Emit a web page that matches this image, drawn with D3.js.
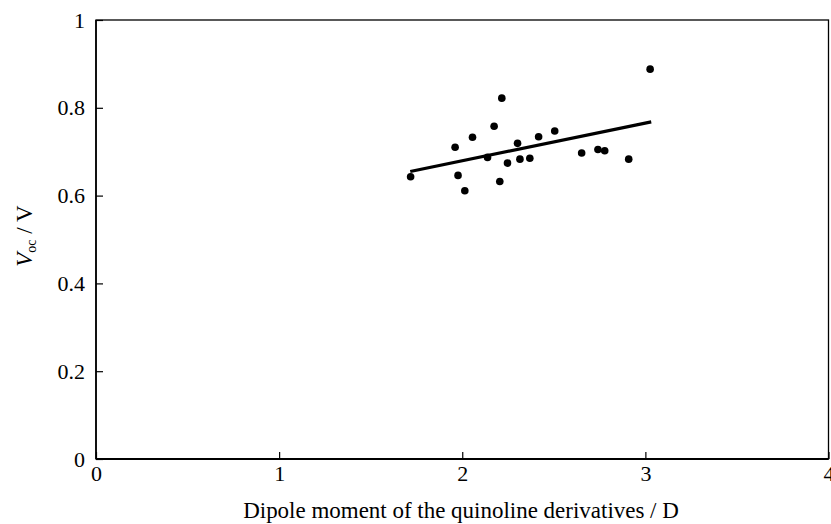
<!DOCTYPE html>
<html><head><meta charset="utf-8">
<script src="https://cdn.jsdelivr.net/npm/d3@7"></script>
<style>body{margin:0;background:#fff}svg{display:block}svg text{font-family:"Liberation Serif","Times New Roman",serif !important;fill:#000}</style>
</head><body><svg id="c" width="831" height="524"></svg>
<script>
const dipole = [1.718,1.961,1.977,2.014,2.056,2.138,2.174,2.216,2.205,2.247,2.302,2.315,2.369,2.417,2.505,2.652,2.741,2.778,2.909,3.026];
const voc    = [0.643,0.710,0.646,0.611,0.733,0.687,0.758,0.822,0.632,0.674,0.719,0.683,0.685,0.734,0.747,0.697,0.705,0.702,0.683,0.888];
const fitX = [1.716, 3.032];
const fitY = [0.655, 0.768];
const xTicks = [0,1,2,3,4];
const yTicks = [0,0.2,0.4,0.6,0.8,1];

const svg = d3.select("#c");
const L=96, R=828.5, T=20, B=459;
const FS = 22;
const x = d3.scaleLinear().domain([0,4]).range([L,R]);
const y = d3.scaleLinear().domain([0,1]).range([B,T]);

// frame
svg.append("rect").attr("x",L).attr("y",T).attr("width",R-L).attr("height",B-T)
  .attr("fill","none").attr("stroke","#000").attr("stroke-width",1.3);
svg.append("line").attr("x1",L).attr("x2",R).attr("y1",B).attr("y2",B).attr("stroke","#000").attr("stroke-width",2.2);
svg.append("line").attr("x1",L).attr("x2",L).attr("y1",T).attr("y2",B).attr("stroke","#000").attr("stroke-width",1.6);

const xa = svg.append("g").attr("transform",`translate(0,${B})`)
  .call(d3.axisBottom(x).tickValues(xTicks).tickFormat(d3.format("d")).tickSizeInner(-7).tickSizeOuter(0).tickPadding(6));
xa.select(".domain").remove();
xa.attr("font-size",FS).attr("font-family","Liberation Serif");
xa.selectAll("line").attr("stroke","#000").attr("stroke-width",1.2);

const ya = svg.append("g").attr("transform",`translate(${L},0)`)
  .call(d3.axisLeft(y).tickValues(yTicks).tickFormat(d=>d===0?"0":d===1?"1":d3.format(".1f")(d)).tickSizeInner(-7).tickSizeOuter(0).tickPadding(11));
ya.select(".domain").remove();
ya.attr("font-size",FS).attr("font-family","Liberation Serif");
ya.selectAll("line").attr("stroke","#000").attr("stroke-width",1.2);

// fit line
svg.append("line").attr("x1",x(fitX[0])).attr("y1",y(fitY[0])).attr("x2",x(fitX[1])).attr("y2",y(fitY[1]))
  .attr("stroke","#000").attr("stroke-width",3.2);

svg.append("g").selectAll("circle").data(dipole.map((d,i)=>[d,voc[i]])).join("circle")
  .attr("cx",d=>x(d[0])).attr("cy",d=>y(d[1])).attr("r",3.8).attr("fill","#000");

const xl = svg.append("text").attr("x",461).attr("y",518).attr("text-anchor","middle").attr("font-size",FS)
  .text("Dipole moment of the quinoline derivatives / D");
const w = xl.node().getComputedTextLength();
if (w > 0) xl.attr("font-size", FS * 436 / w);

const yl = svg.append("text").attr("transform",`translate(31.5,236) rotate(-90)`).attr("text-anchor","middle").attr("font-size",23);
yl.append("tspan").attr("font-style","italic").text("V");
yl.append("tspan").attr("font-size",14).attr("dy",4).text("oc");
yl.append("tspan").attr("dy",-4).text(" / V");
</script></body></html>
